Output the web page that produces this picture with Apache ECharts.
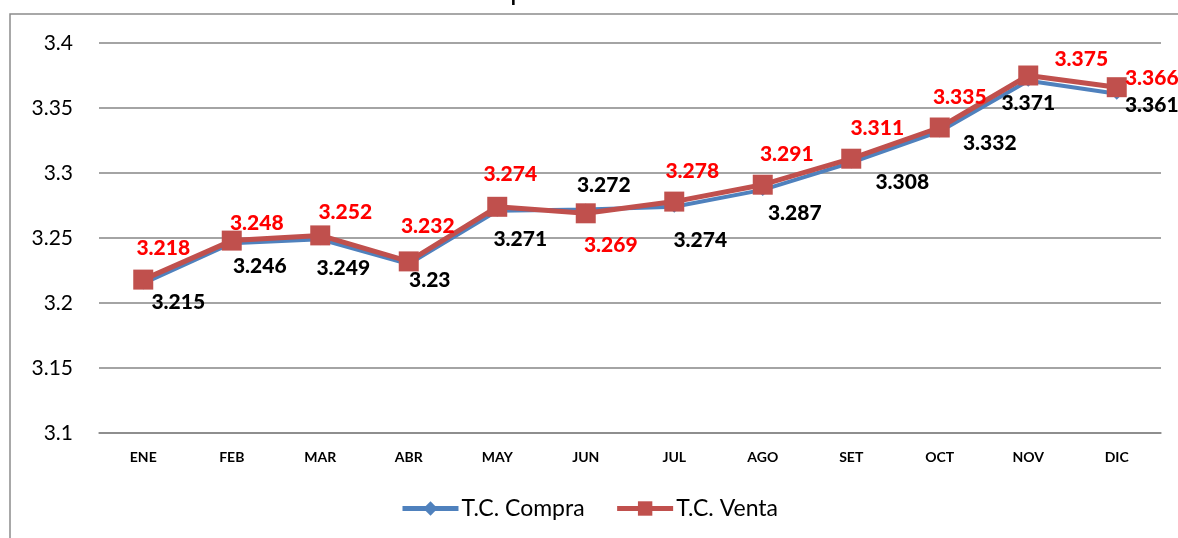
<!DOCTYPE html>
<html><head><meta charset="utf-8">
<script src="https://cdn.jsdelivr.net/npm/echarts@6/dist/echarts.min.js"></script>
<style>html,body{margin:0;padding:0;background:#fff}#c{width:1178px;height:538px}</style>
</head><body><div id="c"></div>
<script>
const categories = ['ENE','FEB','MAR','ABR','MAY','JUN','JUL','AGO','SET','OCT','NOV','DIC'];
const compra = [3.215,3.246,3.249,3.23,3.271,3.272,3.274,3.287,3.308,3.332,3.371,3.361];
const venta  = [3.218,3.248,3.252,3.232,3.274,3.269,3.278,3.291,3.311,3.335,3.375,3.366];
const yTicks = [3.1,3.15,3.2,3.25,3.3,3.35,3.4];
const titleText = 'Expresado en soles';

// label offsets (styling)
const compraOff = [[35,19],[28,23],[23,29],[21,16],[23,29],[18,-24],[26,33],[32,23],[51,20],[50,12],[0,23],[35,12]];
const ventaOff  = [[20,-31],[25,-17],[25,-23],[19,-35],[13,-33],[25,32],[18,-30],[24,-30],[26,-30],[20,-30],[53,-16],[35,-9]];

const FONT = 'Lato, "Open Sans", sans-serif';
function mk(vals, offs, color){
  return vals.map((v,i)=>({value:v, label:{offset:offs[i], color:color}}));
}
const chart = echarts.init(document.getElementById('c'), null, {renderer:'canvas'});
chart.setOption({
  animation:false,
  graphic:[
    {type:'rect', shape:{x:10,y:14,width:1200,height:560}, style:{fill:'none', stroke:'#8c8c8c', lineWidth:1.5}, z:-1},
    {type:'text', x:600, y:5, style:{text:titleText, font:'29px '+FONT, fill:'#000', textAlign:'center', textVerticalAlign:'bottom', verticalAlign:'bottom'}, z:-2}
  ],
  grid:{left:99, right:17, top:43, bottom:105, containLabel:false},
  legend:{
    bottom:13, left:'center', itemWidth:56, itemHeight:18, itemGap:30,
    lineStyle:{width:5},
    textStyle:{fontFamily:FONT, fontSize:23, color:'#000', padding:[0,0,0,-2]},
    data:[{name:'T.C. Compra'}, {name:'T.C. Venta'}]
  },
  xAxis:{
    type:'category', data:categories, boundaryGap:true,
    axisLine:{show:true, lineStyle:{color:'#868686', width:1.5}},
    axisTick:{show:false},
    axisLabel:{fontFamily:FONT, fontWeight:'bold', fontSize:14, color:'#000', margin:17}
  },
  yAxis:{
    type:'value', min:3.1, max:3.4, interval:0.05,
    axisLine:{show:false}, axisTick:{show:false},
    splitLine:{lineStyle:{color:'#868686', width:1.5}},
    axisLabel:{fontFamily:FONT, fontSize:21, color:'#000', margin:26,
      formatter:v=>{const t=yTicks.find(x=>Math.abs(x-v)<1e-9); return t!==undefined?String(t):'';}}
  },
  series:[
    {name:'T.C. Compra', type:'line', data:mk(compra,compraOff,'#000'),
     symbol:'diamond', symbolSize:12, lineStyle:{color:'#4F81BD', width:4},
     itemStyle:{color:'#4F81BD'},
     label:{show:true, position:'inside', fontFamily:FONT, fontWeight:900, fontSize:21}, z:2},
    {name:'T.C. Venta', type:'line', data:mk(venta,ventaOff,'#FF0000'),
     symbol:'rect', symbolSize:20, lineStyle:{color:'#C0504D', width:5},
     itemStyle:{color:'#C0504D'},
     label:{show:true, position:'inside', fontFamily:FONT, fontWeight:900, fontSize:21}, z:3}
  ]
});
</script></body></html>
